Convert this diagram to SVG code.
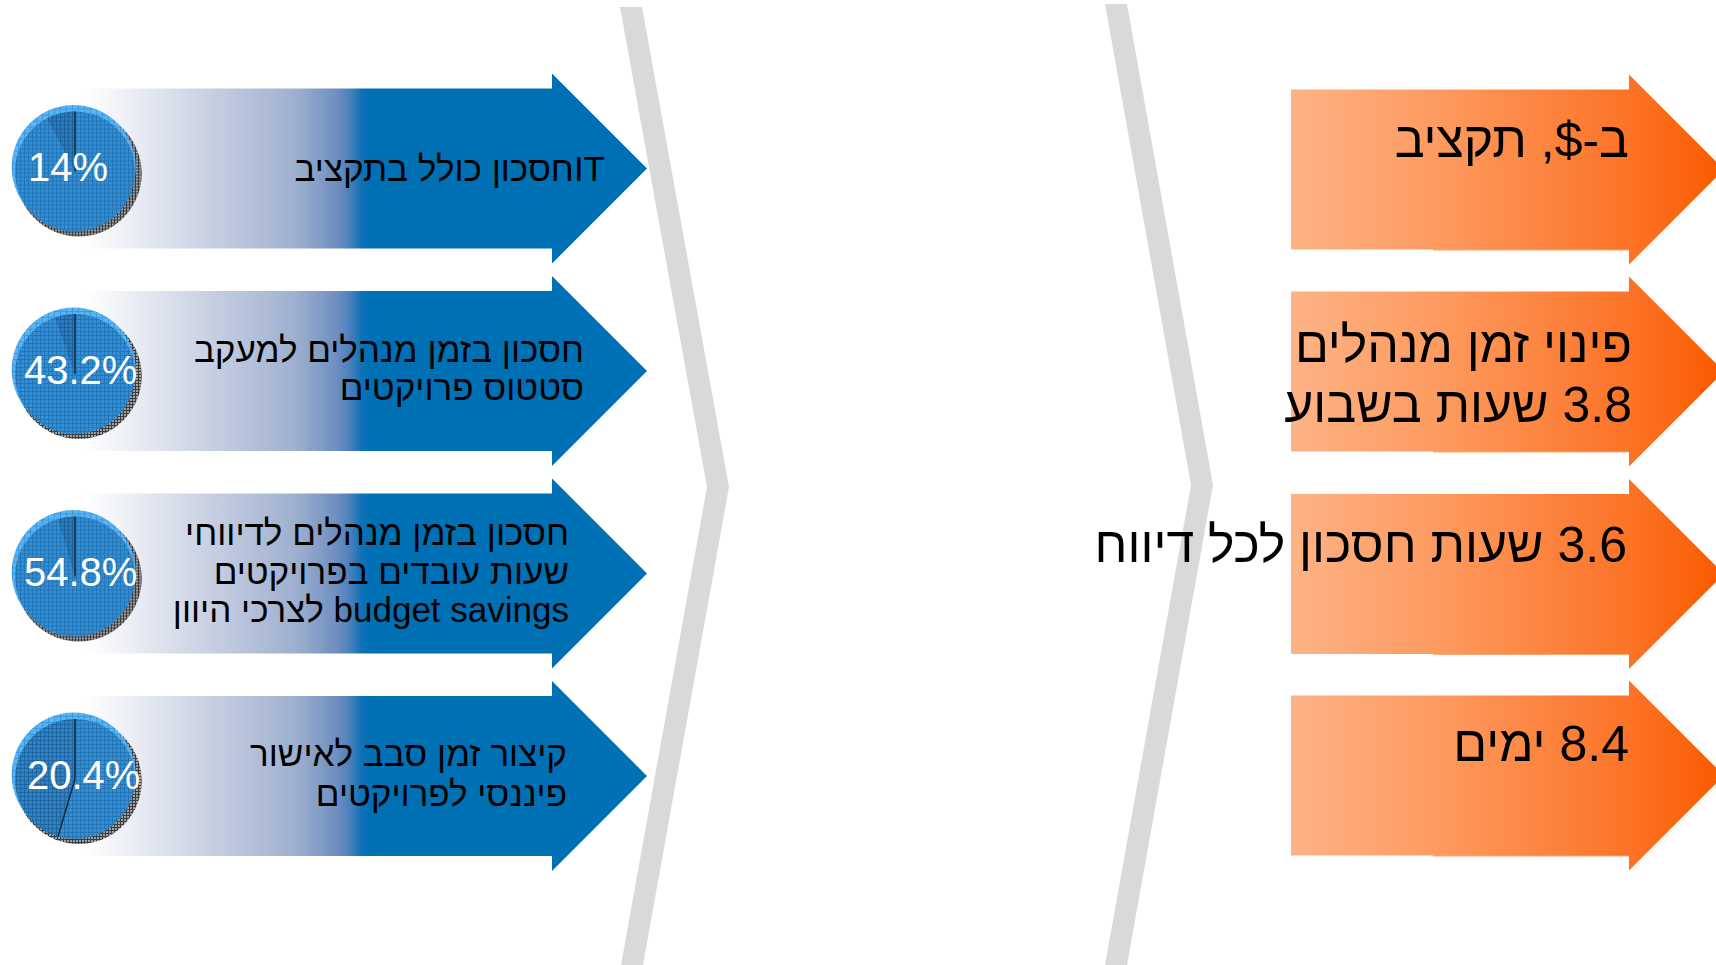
<svg xmlns="http://www.w3.org/2000/svg" width="1716" height="965" viewBox="0 0 1716 965">
<style>
.bt{font-family:"Liberation Sans","DejaVu Sans",Arial,sans-serif;font-size:35px;fill:#000;direction:rtl;text-anchor:start}
.ot{font-family:"Liberation Sans","DejaVu Sans",Arial,sans-serif;font-size:50px;fill:#000;direction:rtl;text-anchor:start}
.pct{font-family:"Liberation Sans","DejaVu Sans",Arial,sans-serif;font-size:40px;fill:#fff}
.chev{fill:#d9d9d9}
.line{stroke:#1a2a3a;stroke-width:1.5;fill:none}
</style>
<defs>
<linearGradient id="gBlue" gradientUnits="userSpaceOnUse" x1="84" y1="0" x2="370" y2="0">
<stop offset="0" stop-color="#ffffff"/>
<stop offset="0.12" stop-color="#f1f3f8"/>
<stop offset="0.44" stop-color="#c8d0e2"/>
<stop offset="0.74" stop-color="#9eb0cf"/>
<stop offset="0.88" stop-color="#7090c0"/>
<stop offset="0.93" stop-color="#4a80bb"/>
<stop offset="0.97" stop-color="#0f72b6"/>
<stop offset="1" stop-color="#0070b5"/>
</linearGradient>
<linearGradient id="gOrange" gradientUnits="userSpaceOnUse" x1="1291" y1="0" x2="1716" y2="0">
<stop offset="0" stop-color="#fdb386"/>
<stop offset="0.33" stop-color="#fd9c62"/>
<stop offset="0.8" stop-color="#fb7326"/>
<stop offset="1" stop-color="#fa5c00"/>
</linearGradient>
<pattern id="mesh" width="4" height="4" patternUnits="userSpaceOnUse">
<rect width="4" height="4" fill="#2f8fd8"/>
<path d="M0 0.5H4M0.5 0V4" stroke="#1b5a8e" stroke-width="1" opacity="0.5"/>
</pattern>
<pattern id="meshDark" width="4" height="4" patternUnits="userSpaceOnUse">
<rect width="4" height="4" fill="#2479c0"/>
<path d="M0 0.5H4M0.5 0V4" stroke="#143f66" stroke-width="1" opacity="0.5"/>
</pattern>
<pattern id="meshLight" width="6" height="6" patternUnits="userSpaceOnUse">
<rect width="6" height="6" fill="#5ab4f2"/>
<path d="M0 0.5H6M0.5 0V6" stroke="#2f8fd8" stroke-width="1" opacity="0.7"/>
</pattern>
<pattern id="meshGray" width="3" height="3" patternUnits="userSpaceOnUse">
<rect width="3" height="3" fill="#a0a0a0"/>
<path d="M0 0.5H3M0.5 0V3" stroke="#222" stroke-width="1" opacity="0.8"/>
</pattern>
<path id="blueArrow" d="M84,-80 H552 V-95 L647,0 L552,95 V80 H84 Z"/>
<path id="orangeArrow" d="M1291,-80 H1629 V-95 L1724,0 L1629,95 V80 H1291 Z"/>
<g id="pieBase">
<circle cx="78.7" cy="5" r="63" fill="url(#meshGray)"/>
<circle cx="73.7" cy="-1.5" r="62" fill="url(#meshLight)"/>
<circle cx="75" cy="3" r="60" fill="url(#mesh)"/>
</g>
</defs>

<g id="chevrons">
<polygon class="chev" points="620,7 642,7 729,487 643,965 621,965 707,487"/>
<polygon class="chev" points="1105,4 1127,4 1213,485 1127,965 1105,965 1191,485"/>
</g>

<g id="left1" transform="translate(0,168.5)">
<use href="#blueArrow" fill="url(#gBlue)"/>
<use href="#pieBase"/>
<path d="M75,3 L75,-57 A60,60 0 0 0 47,-50 Z" fill="url(#meshDark)" opacity="0.8"/>
<line class="line" x1="75" y1="3" x2="75" y2="-57"/>
<text class="pct" x="28" y="12">14%</text>
<text class="bt" x="605" y="12">ITחסכון כולל בתקציב</text>
</g>

<g id="left2" transform="translate(0,371)">
<use href="#blueArrow" fill="url(#gBlue)"/>
<use href="#pieBase"/>
<path d="M75,3 L75,-57 A60,60 0 0 0 55,-53.5 Z" fill="url(#meshDark)" opacity="0.8"/>
<line class="line" x1="75" y1="3" x2="75" y2="-57"/>
<text class="pct" x="24" y="12.5">43.2%</text>
<text class="bt" x="584" y="-9">חסכון בזמן מנהלים למעקב</text>
<text class="bt" x="584" y="29">סטטוס פרויקטים</text>
</g>

<g id="left3" transform="translate(0,573.5)">
<use href="#blueArrow" fill="url(#gBlue)"/>
<use href="#pieBase"/>
<path d="M75,3 L75,-57 A60,60 0 0 0 58,-54.5 Z" fill="url(#meshDark)" opacity="0.8"/>
<line class="line" x1="75" y1="3" x2="75" y2="-57"/>
<text class="pct" x="24" y="12.5">54.8%</text>
<text class="bt" x="569" y="-28.5">חסכון בזמן מנהלים לדיווחי</text>
<text class="bt" x="569" y="10">שעות עובדים בפרויקטים</text>
<text class="bt" x="569" y="48.5">budget savings לצרכי היוון</text>
</g>

<g id="left4" transform="translate(0,776)">
<use href="#blueArrow" fill="url(#gBlue)"/>
<use href="#pieBase"/>
<path d="M75,3 L75,-57 A60,60 0 0 0 58,60.5 Z" fill="url(#meshDark)" opacity="0.55"/>
<polyline class="line" points="75,-57 75,3 58,60.5"/>
<text class="pct" x="27" y="12.5">20.4%</text>
<text class="bt" x="567" y="-10">קיצור זמן סבב לאישור</text>
<text class="bt" x="567" y="29.5">פיננסי לפרויקטים</text>
</g>

<g id="right1" transform="translate(0,169.5)">
<rect x="1433" y="79" width="196" height="2" fill="#fda877"/>
<use href="#orangeArrow" fill="url(#gOrange)"/>
<text class="ot" x="1629" y="-12.5">ב-$, תקציב</text>
</g>

<g id="right2" transform="translate(0,371.5)">
<rect x="1433" y="79" width="196" height="2" fill="#fda877"/>
<use href="#orangeArrow" fill="url(#gOrange)"/>
<text class="ot" x="1632" y="-9.5">פינוי זמן מנהלים</text>
<text class="ot" x="1632" y="50">3.8 שעות בשבוע</text>
</g>

<g id="right3" transform="translate(0,574)">
<rect x="1433" y="79" width="196" height="2" fill="#fda877"/>
<use href="#orangeArrow" fill="url(#gOrange)"/>
<text class="ot" x="1627" y="-12">3.6 שעות חסכון לכל דיווח</text>
</g>

<g id="right4" transform="translate(0,775.5)">
<rect x="1433" y="79" width="196" height="2" fill="#fda877"/>
<use href="#orangeArrow" fill="url(#gOrange)"/>
<text class="ot" x="1629" y="-15">8.4 ימים</text>
</g>
</svg>
